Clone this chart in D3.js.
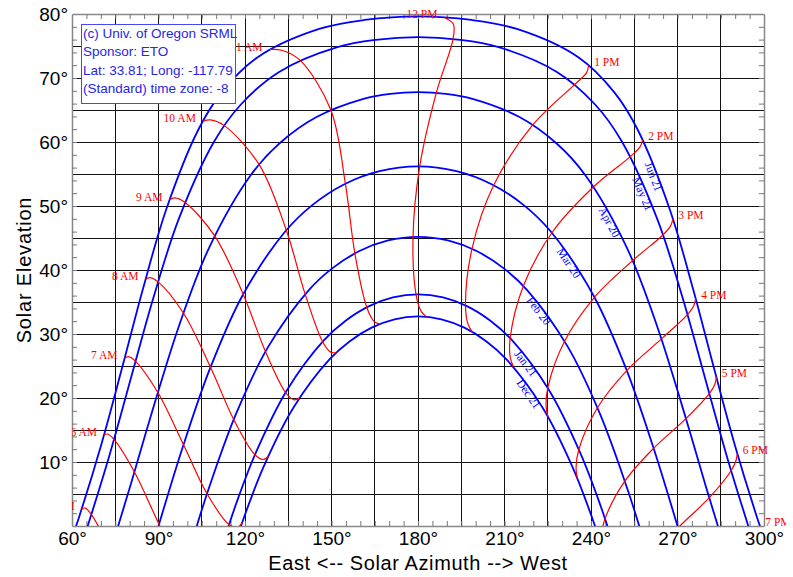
<!DOCTYPE html>
<html><head><meta charset="utf-8">
<script src="https://cdn.jsdelivr.net/npm/d3@7"></script>
<style>body{margin:0;background:#fff}svg{display:block}</style>
</head><body>
<svg id="c" width="793" height="577"></svg>
<script>
// ---------------- data ----------------
const xTickLabels = [60, 90, 120, 150, 180, 210, 240, 270, 300];
const yTickLabels = [10, 20, 30, 40, 50, 60, 70, 80];
const legendLines = ["(c) Univ. of Oregon SRML", "Sponsor: ETO", "Lat: 33.81; Long: -117.79", "(Standard) time zone: -8"];

// date sun paths [azimuth, elevation]
const jun21 = [[61.4,0],[62.44,1.38],[70.2,12.79],[77.4,24.75],[84.6,37.04],[92.7,49.49],[103.67,61.8],[111.9,67.75],[124.4,73.24],[145.71,77.66],[161.46,79.07],[180,79.63],[198.54,79.07],[214.29,77.66],[235.6,73.24],[248.1,67.75],[256.33,61.8],[267.3,49.49],[275.4,37.04],[282.6,24.75],[289.8,12.79],[297.56,1.38],[298.6,0]];
const may21 = [[65.45,0],[73.0,11.07],[80.5,23.2],[88.18,35.59],[97.07,48.02],[109.4,60.15],[118.57,65.86],[131.84,70.95],[152.05,74.82],[165.31,75.96],[180,76.39],[194.69,75.96],[207.95,74.82],[228.16,70.95],[241.43,65.86],[250.6,60.15],[262.93,48.02],[271.82,35.59],[279.5,23.2],[287.0,11.07],[294.55,0]];
const apr20 = [[76.0,0],[80.32,6.42],[88.42,18.81],[97.1,31.26],[107.5,43.43],[121.9,54.77],[131.91,59.76],[144.8,63.9],[161.1,66.75],[170.35,67.53],[180,67.79],[189.65,67.53],[198.9,66.75],[215.2,63.9],[228.09,59.76],[238.1,54.77],[252.5,43.43],[262.9,31.26],[271.58,18.81],[279.68,6.42],[284.0,0]];
const mar20 = [[90,0],[98.48,12.42],[107.81,24.54],[119.09,35.98],[133.94,46.01],[143.33,50.14],[154.29,53.37],[166.69,55.45],[180,56.19],[193.31,55.45],[205.71,53.37],[216.67,50.14],[226.06,46.01],[240.91,35.98],[252.19,24.54],[261.52,12.42],[270,0]];
const feb20 = [[103.27,0],[107.55,6.02],[116.92,17.55],[128.13,28.06],[142.15,36.87],[150.47,40.33],[159.68,42.96],[169.63,44.61],[180,45.19],[190.37,44.61],[200.32,42.96],[209.53,40.33],[217.85,36.87],[231.87,28.06],[243.08,17.55],[252.45,6.02],[256.73,0]];
const jan21 = [[114.31,0],[117.66,4.4],[123.84,11.54],[134.54,21.2],[147.48,29.07],[154.89,32.07],[162.87,34.32],[171.31,35.71],[180,36.19],[188.69,35.71],[197.13,34.32],[205.11,32.07],[212.52,29.07],[225.46,21.2],[236.16,11.54],[242.34,4.4],[245.69,0]];
const dec21 = [[118.6,0],[126.4,9.2],[136.83,18.52],[149.3,26.03],[156.36,28.88],[163.92,30.99],[171.85,32.3],[180,32.75],[188.15,32.3],[196.08,30.99],[203.64,28.88],[210.7,26.03],[223.17,18.52],[233.6,9.2],[241.4,0]];
const dateNames = ["Jun 21", "May 21", "Apr 20", "Mar 20", "Feb 20", "Jan 21", "Dec 21"];
const dateLabelAz = [263.0, 259.2, 247.6, 233.5, 223.0, 218.5, 219.5];

// hour lines (Dec 21 -> Jun 21) [azimuth, elevation]
const hour5am  = [[73.38,-3.7],[66.74,1.78],[64.62,2.79],[63.41,2.72]];
const hour6am  = [[98.5,-7.1],[90.19,0.28],[81.65,8.44],[74.56,13.53],[72.31,14.37],[71.08,14.21]];
const hour7am  = [[119.03,0.55],[117.41,-0.19],[114.47,0.22],[106.83,5.04],[98.68,12.69],[89.78,20.86],[82.03,25.73],[79.57,26.46],[78.24,26.21]];
const hour8am  = [[128.1,10.94],[126.37,10.39],[123.45,11.13],[116.09,16.63],[108.05,24.81],[98.63,33.28],[89.86,38.15],[87.01,38.82],[85.5,38.54]];
const hour9am  = [[138.86,19.99],[137.0,19.71],[134.08,20.86],[127.11,27.25],[119.38,36.22],[109.47,45.34],[99.21,50.56],[95.68,51.27],[93.8,51.0]];
const hour10am = [[151.72,27.11],[149.72,27.17],[146.92,28.8],[140.86,36.24],[134.33,46.21],[124.92,56.46],[112.81,62.56],[108.07,63.46],[105.4,63.27]];
const hour11am = [[166.68,31.55],[164.65,32.02],[162.22,34.17],[158.1,42.6],[154.81,53.49],[149.77,65.01],[139.14,72.75],[132.97,74.3],[128.5,74.45]];
const hour12pm = [[182.88,32.69],[181.03,33.58],[179.31,36.19],[178.28,45.16],[180.6,56.19],[186.35,67.68],[192.15,76.1],[192.26,78.43],[189.16,79.46]];
const hour1pm  = [[198.79,30.34],[197.31,31.58],[196.48,34.46],[198.72,43.31],[206.24,53.25],[219.8,62.66],[234.28,68.96],[238.42,70.8],[239.2,71.99]];
const hour2pm  = [[213.06,24.87],[211.98,26.37],[211.96,29.33],[216.54,37.5],[226.45,45.82],[240.9,53.0],[253.62,57.72],[257.01,59.25],[257.94,60.33]];
const hour3pm  = [[225.15,16.99],[224.43,18.65],[225.0,21.56],[230.83,28.87],[241.2,35.74],[254.42,41.46],[264.93,45.47],[267.61,46.9],[268.39,47.98]];
const hour4pm  = [[235.26,7.41],[234.81,9.14],[235.78,11.95],[242.24,18.47],[252.4,24.28],[264.42,29.23],[273.45,33.03],[275.68,34.46],[276.3,35.55]];
const hour5pm  = [[243.87,-3.34],[243.61,-1.56],[244.86,1.12],[251.73,7.0],[261.71,12.14],[272.92,16.77],[281.03,20.68],[282.97,22.16],[283.47,23.28]];
const hour6pm  = [[260.15,-5.08],[270.19,-0.28],[281.02,4.42],[288.57,8.64],[290.31,10.23],[290.71,11.37]];
const hour7pm  = [[298.27,-1.12],[298.56,0.05]];
const hourNames = ["5 AM","6 AM","7 AM","8 AM","9 AM","10 AM","11 AM","12 PM","1 PM","2 PM","3 PM","4 PM","5 PM","6 PM","7 PM"];

// ---------------- drawing ----------------
const dateCurves = [jun21, may21, apr20, mar20, feb20, jan21, dec21];
const hourLines = [hour5am, hour6am, hour7am, hour8am, hour9am, hour10am, hour11am, hour12pm, hour1pm, hour2pm, hour3pm, hour4pm, hour5pm, hour6pm, hour7pm];

const svg = d3.select("#c");
const W = 793, H = 577, L = 72, R = 764, T = 14, B = 526;
const x = d3.scaleLinear().domain([60, 300]).range([L, R]);
const y = d3.scaleLinear().domain([0, 80]).range([B, T]);
const SANS = "'Liberation Sans', Arial, sans-serif";
const SERIF = "'Liberation Serif', 'Times New Roman', serif";

const defs = svg.append("defs");
defs.append("clipPath").attr("id", "plotClip").append("rect")
  .attr("x", L).attr("y", T).attr("width", R - L).attr("height", B - T);
defs.append("clipPath").attr("id", "labelClip").append("rect")
  .attr("x", L).attr("y", 0).attr("width", 786 - L).attr("height", H);

svg.append("rect").attr("width", W).attr("height", H).attr("fill", "#fff");

// grid
const grid = svg.append("g").attr("stroke", "#111").attr("stroke-width", 1).attr("shape-rendering", "crispEdges");
grid.selectAll("line.v").data(d3.range(75, 300, 15)).join("line").attr("class", "v")
  .attr("x1", d => x(d)).attr("x2", d => x(d)).attr("y1", T).attr("y2", B);
grid.selectAll("line.h").data(d3.range(5, 80, 5)).join("line").attr("class", "h")
  .attr("x1", L).attr("x2", R).attr("y1", d => y(d)).attr("y2", d => y(d));

// minor tick axes (inward)
function styleFrame(g) {
  g.select(".domain").attr("stroke", "#888").attr("stroke-width", 1.5);
  g.selectAll(".tick line").attr("stroke", "#777");
}
svg.append("g").attr("transform", `translate(0,${B})`)
  .call(d3.axisBottom(x).tickValues(d3.range(65, 300, 5)).tickSizeInner(-5).tickSizeOuter(0).tickFormat(""))
  .call(styleFrame);
svg.append("g").attr("transform", `translate(0,${T})`)
  .call(d3.axisTop(x).tickValues(d3.range(65, 300, 5)).tickSizeInner(-5).tickSizeOuter(0).tickFormat(""))
  .call(styleFrame);
svg.append("g").attr("transform", `translate(${L},0)`)
  .call(d3.axisLeft(y).tickValues(d3.range(2, 80, 2)).tickSizeInner(-5).tickSizeOuter(0).tickFormat(""))
  .call(styleFrame);
svg.append("g").attr("transform", `translate(${R},0)`)
  .call(d3.axisRight(y).tickValues(d3.range(2, 80, 2)).tickSizeInner(-5).tickSizeOuter(0).tickFormat(""))
  .call(styleFrame);

// tick labels
const xl = svg.append("g").attr("transform", `translate(0,${B})`)
  .call(d3.axisBottom(x).tickValues(xTickLabels).tickSize(0).tickPadding(5.5).tickFormat(d => d + "°"));
xl.select(".domain").remove();
xl.attr("font-family", SANS).attr("font-size", 19).selectAll("text").attr("fill", "#000");
const yl = svg.append("g").attr("transform", `translate(${L},0)`)
  .call(d3.axisLeft(y).tickValues(yTickLabels).tickSize(0).tickPadding(4).tickFormat(d => d + "°"));
yl.select(".domain").remove();
yl.attr("font-family", SANS).attr("font-size", 19).selectAll("text").attr("fill", "#000");

// axis titles
svg.append("text").attr("x", 418).attr("y", 569.5).attr("text-anchor", "middle")
  .attr("font-family", SANS).attr("font-size", 20).attr("letter-spacing", 0.6)
  .text("East <-- Solar Azimuth --> West");
svg.append("text").attr("transform", "translate(31,270) rotate(-90)").attr("text-anchor", "middle")
  .attr("font-family", SANS).attr("font-size", 20).attr("letter-spacing", 0.8)
  .text("Solar Elevation");

// curves
const line = d3.line().x(d => x(d[0])).y(d => y(d[1])).curve(d3.curveCatmullRom.alpha(0.5));
const plot = svg.append("g").attr("clip-path", "url(#plotClip)");
const datePaths = plot.append("g").selectAll("path").data(dateCurves).join("path")
  .attr("d", line).attr("fill", "none").attr("stroke", "#0000ff").attr("stroke-width", 1.8);
plot.append("g").selectAll("path").data(hourLines).join("path")
  .attr("d", line).attr("fill", "none").attr("stroke", "#ff0000").attr("stroke-width", 1.2);

// date labels along curves
const dl = svg.append("g");
datePaths.each(function(d, i) {
  const node = this, len = node.getTotalLength();
  const tx = x(dateLabelAz[i]);
  let lo = len / 2, hi = len;
  for (let k = 0; k < 40; k++) {
    const mid = (lo + hi) / 2;
    if (node.getPointAtLength(mid).x < tx) lo = mid; else hi = mid;
  }
  const p = node.getPointAtLength(lo);
  const p1 = node.getPointAtLength(Math.max(0, lo - 3)), p2 = node.getPointAtLength(Math.min(len, lo + 3));
  const ang = Math.atan2(p2.y - p1.y, p2.x - p1.x) * 180 / Math.PI;
  dl.append("text").attr("transform", `translate(${p.x},${p.y}) rotate(${ang})`)
    .attr("y", 8).attr("text-anchor", "middle").attr("font-family", SERIF).attr("font-size", 11.5)
    .attr("fill", "#0000ff").text(dateNames[i]);
});

// hour labels
const hl = svg.append("g").attr("clip-path", "url(#labelClip)");
hourLines.forEach((pts, i) => {
  const last = pts[pts.length - 1];
  const isPM = i > 7;
  hl.append("text")
    .attr("x", x(last[0]) + (isPM ? 5.5 : -7))
    .attr("y", y(last[1]) + (isPM ? 0.3 : 1))
    .attr("text-anchor", isPM ? "start" : "end")
    .attr("font-family", SERIF).attr("font-size", 11.5).attr("fill", "#ff0000")
    .text(hourNames[i]);
});

// legend box
const lg = svg.append("g");
lg.append("rect").attr("x", 81.5).attr("y", 24.5).attr("width", 154).attr("height", 79)
  .attr("fill", "#fff").attr("stroke", "#4646ff").attr("stroke-width", 1);
lg.selectAll("text").data(legendLines).join("text")
  .attr("x", 83).attr("y", (d, i) => 37.5 + i * 18.6)
  .attr("font-family", SANS).attr("font-size", 13.5).attr("fill", "#2626e8").text(d => d);
</script>
</body></html>
